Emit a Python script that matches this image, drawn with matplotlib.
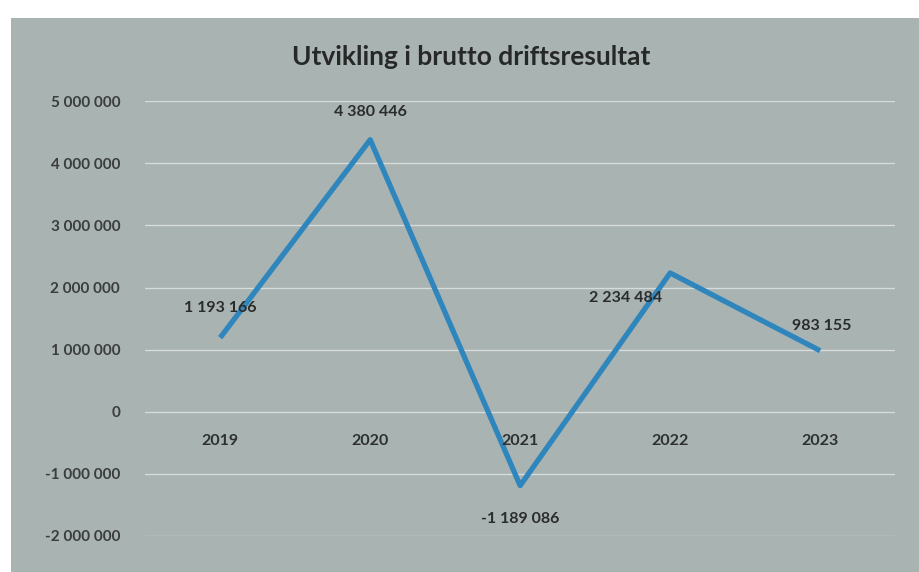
import matplotlib.pyplot as plt

plt.rcParams['font.family'] = ['Lato', 'DejaVu Sans']

years = ['2019', '2020', '2021', '2022', '2023']
values = [1193166, 4380446, -1189086, 2234484, 983155]
yticks = [-2000000, -1000000, 0, 1000000, 2000000, 3000000, 4000000, 5000000]
title = 'Utvikling i brutto driftsresultat'

# label offsets in points (dx, dy) around each point
label_offsets = [(0, 21), (0, 20), (0, -24), (-32, -18), (1, 18)]


def fmt(v):
    return f"{v:,}".replace(",", " ")


bg = '#a9b3b1'
fig = plt.figure(figsize=(9.19, 5.72), dpi=100, facecolor='white')
# chart area background (photo of a printed chart)
fig.patches.append(plt.Rectangle((0.012, 0.0), 0.988, 0.968, transform=fig.transFigure,
                                 facecolor=bg, edgecolor='none', zorder=-10))

ax = fig.add_axes([0.158, 0.063, 0.816, 0.760])
ax.set_facecolor('none')
x = range(len(years))
ax.plot(x, values, color='#2f86bd', lw=3.8, solid_capstyle='butt', zorder=3)

ax.set_xlim(-0.5, 4.5)
ax.set_ylim(-2000000, 5000000)
ax.set_yticks(yticks)
ax.set_yticklabels([fmt(v) for v in yticks])
ax.tick_params(axis='y', length=0, pad=18, labelsize=11, labelcolor='#3a3d3d')
ax.set_xticks([])
for lbl in ax.get_yticklabels():
    lbl.set_fontweight('bold')
ax.yaxis.grid(True, color='#d6dbdb', lw=1.0)
ax.set_axisbelow(True)
for s in ax.spines.values():
    s.set_visible(False)

for i, yr in enumerate(years):
    ax.annotate(yr, (i, 0), xytext=(0, -21), textcoords='offset points',
                ha='center', va='center', fontsize=11.5, fontweight='bold', color='#2e3030')

for i, v in enumerate(values):
    dx, dy = label_offsets[i]
    ax.annotate(fmt(v), (i, v), xytext=(dx, dy), textcoords='offset points',
                ha='center', va='center', fontsize=11.5, fontweight='bold', color='#2a2c2c',
                zorder=4)

fig.text(0.513, 0.9, title, ha='center', va='center', fontsize=19, fontweight='bold',
         color='#262828')

fig.savefig('out.png', dpi=100, facecolor='white')
